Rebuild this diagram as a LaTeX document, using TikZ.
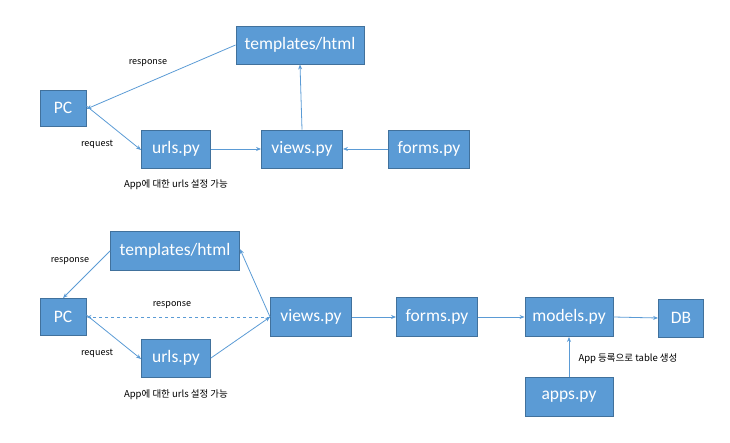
\documentclass[tikz,border=0pt]{standalone}
\usepackage{fontspec}
\setmainfont{Carlito}
\newfontfamily\kr{Noto Sans CJK KR}
\usetikzlibrary{arrows.meta}
\definecolor{boxfill}{HTML}{5B9BD5}
\definecolor{boxline}{HTML}{41719C}
\definecolor{arr}{HTML}{5B9BD5}
\tikzset{
  box/.style={draw=boxline, fill=boxfill, line width=0.9pt, text=white, font=\fontsize{17.5}{19}\selectfont, inner sep=0pt, anchor=center},
  conn/.style={draw=arr, line width=0.8pt, -{Stealth[length=5pt,width=4pt]}},
  lbl/.style={font=\kr\fontsize{9}{10}\selectfont, text=black, inner sep=0pt},
  note/.style={font=\kr\fontsize{9.5}{10}\selectfont, text=black, inner sep=0pt}
}
\begin{document}
\begin{tikzpicture}[x=1pt,y=-1pt]
\useasboundingbox (0,0) rectangle (730,443);
% top diagram
\node[box, minimum width=128pt, minimum height=38pt] (tt) at (300,45) {templates/html};
\node[box, minimum width=46pt, minimum height=36pt] (tpc) at (63,108) {PC};
\node[box, minimum width=69pt, minimum height=38pt] (turls) at (176,149) {urls.py};
\node[box, minimum width=81pt, minimum height=38pt] (tviews) at (302,149) {views.py};
\node[box, minimum width=81pt, minimum height=38pt] (tforms) at (429,149) {forms.py};
\draw[conn] (tt.west) -- ([yshift=-1pt]tpc.east);
\draw[conn] ([yshift=2pt]tpc.east) -- ([yshift=-1pt]turls.west);
\draw[conn] (turls.east) -- (tviews.west);
\draw[conn] (tviews.north) -- (tt.south);
\draw[conn] (tforms.west) -- (tviews.east);
\node[lbl] (tresp) at (148,63) {response};
\node[lbl] (treq) at (97,144) {request};
\node[note] (tnote) at (176,185) {App에 대한 urls 설정 가능};
% bottom diagram
\node[box, minimum width=129pt, minimum height=39pt] (bt) at (175,251) {templates/html};
\node[box, minimum width=46pt, minimum height=37pt] (bpc) at (63,317) {PC};
\node[box, minimum width=69pt, minimum height=38pt] (burls) at (176,358) {urls.py};
\node[box, minimum width=81pt, minimum height=39pt] (bviews) at (311,317) {views.py};
\node[box, minimum width=81pt, minimum height=39pt] (bforms) at (437,317) {forms.py};
\node[box, minimum width=88pt, minimum height=39pt] (models) at (569,317) {models.py};
\node[box, minimum width=45pt, minimum height=38pt] (db) at (681,318) {DB};
\node[box, minimum width=88pt, minimum height=39pt] (apps) at (569,397) {apps.py};
\draw[conn] (bt.west) -- (bpc.north);
\draw[conn, dashed] (bviews.west) -- (bpc.east);
\draw[conn] ([yshift=2pt]bpc.east) -- ([yshift=-1pt]burls.west);
\draw[conn] (burls.east) -- (bviews.west);
\draw[conn] (bviews.west) -- ([yshift=2pt]bt.east);
\draw[conn] (bviews.east) -- (bforms.west);
\draw[conn] (bforms.east) -- (models.west);
\draw[conn] (models.east) -- (db.west);
\draw[conn] (apps.north) -- (models.south);
\node[lbl] (bresp1) at (70,261) {response};
\node[lbl] (bresp2) at (172,305) {response};
\node[lbl] (breq) at (97,353) {request};
\node[note] (bnote) at (176,395) {App에 대한 urls 설정 가능};
\node[note] (anote) at (628,359) {App 등록으로 table 생성};
\end{tikzpicture}
\end{document}
